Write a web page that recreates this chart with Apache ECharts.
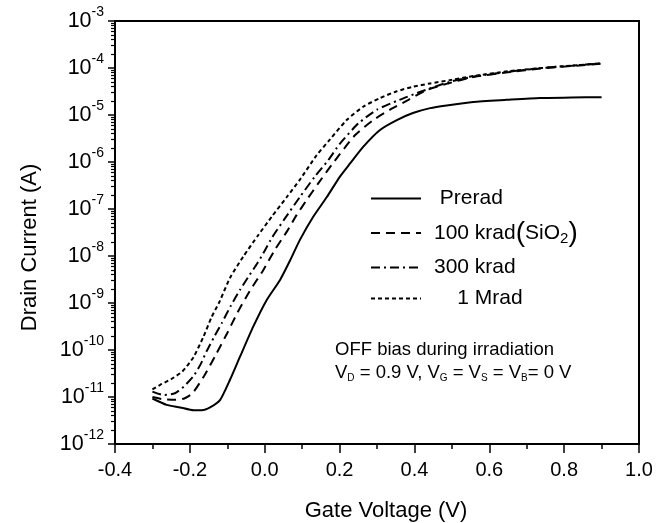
<!DOCTYPE html>
<html><head><meta charset="utf-8">
<script src="https://cdn.jsdelivr.net/npm/echarts@6/dist/echarts.min.js"></script>
<style>html,body{margin:0;padding:0;background:#fff}#c{width:668px;height:523px}</style>
</head><body><div id="c"></div>
<script>
const seriesNames = ['Prerad', '100 krad(SiO2)', '300 krad', '1 Mrad'];

const vPrerad = [-0.30,-0.262,-0.226,-0.19,-0.168,-0.146,-0.119,-0.093,-0.066,-0.031,0.005,0.041,0.068,0.094,0.13,0.166,0.201,0.228,0.263,0.308,0.353,0.396,0.442,0.486,0.557,0.646,0.735,0.82,0.90];
const iPrerad = [9.3e-12,6.8e-12,6.0e-12,5.2e-12,5.2e-12,6.0e-12,8.7e-12,2.3e-11,7.2e-11,3.1e-10,1.15e-9,3.1e-9,8.1e-9,2.2e-8,6.9e-8,1.8e-7,4.9e-7,9.3e-7,2.1e-6,4.8e-6,7.8e-6,1.1e-5,1.4e-5,1.6e-5,1.9e-5,2.1e-5,2.3e-5,2.35e-5,2.4e-5];

const v100k = [-0.30,-0.27,-0.238,-0.215,-0.193,-0.162,-0.13,-0.10,-0.073,-0.04,-0.004,0.027,0.059,0.085,0.112,0.143,0.179,0.241,0.29,0.335,0.384,0.433,0.49,0.56,0.65,0.74,0.82,0.90];
const i100k = [1.0e-11,8.9e-12,8.7e-12,9.3e-12,1.2e-11,2.8e-11,8.1e-11,2.3e-10,6.2e-10,1.8e-9,5.0e-9,1.35e-8,3.3e-8,7.4e-8,1.55e-7,3.5e-7,8.7e-7,3.7e-6,7.8e-6,1.3e-5,2.1e-5,3.4e-5,4.7e-5,6.5e-5,8.1e-5,9.8e-5,1.1e-4,1.23e-4];

const v300k = [-0.30,-0.27,-0.24,-0.215,-0.19,-0.17,-0.155,-0.135,-0.115,-0.09,-0.066,-0.04,-0.02,0.0,0.02,0.054,0.094,0.134,0.17,0.20,0.25,0.30,0.36,0.42,0.47,0.50,0.56,0.65,0.74,0.82,0.90];
const i300k = [1.3e-11,1.1e-11,1.2e-11,1.7e-11,2.8e-11,5.2e-11,9.5e-11,1.9e-10,3.7e-10,8.9e-10,1.9e-9,4.0e-9,6.9e-9,1.3e-8,2.5e-8,6.3e-8,1.8e-7,4.9e-7,1.1e-6,2.4e-6,6.6e-6,1.3e-5,2.1e-5,3.2e-5,4.4e-5,5.2e-5,6.6e-5,8.3e-5,1.0e-4,1.12e-4,1.26e-4];

const v1M = [-0.30,-0.28,-0.25,-0.22,-0.19,-0.164,-0.142,-0.12,-0.093,-0.057,-0.017,0.019,0.059,0.094,0.139,0.174,0.219,0.263,0.308,0.353,0.397,0.442,0.50,0.56,0.65,0.74,0.82,0.90];
const i1M = [1.45e-11,1.8e-11,2.4e-11,3.5e-11,7.1e-11,1.9e-10,5.0e-10,1.1e-9,3.4e-9,9.8e-9,2.8e-8,6.9e-8,1.8e-7,4.2e-7,1.4e-6,3.0e-6,7.8e-6,1.5e-5,2.3e-5,3.2e-5,4.0e-5,4.7e-5,5.6e-5,6.8e-5,8.5e-5,1.0e-4,1.12e-4,1.26e-4];

const yDecadeMin = -12, yDecadeMax = -3;
const yMinorFactors = [2,3,4,5,6,7,8,9];
const xTickMin = -0.4, xTickMax = 1.0, xTickStep = 0.2;

const FONT = '"Liberation Sans", Arial, sans-serif';
function pairs(v, i) { return v.map((x, k) => [x, Math.log10(i[k])]); }
const minorTicks = [];
for (let e = yDecadeMin; e < yDecadeMax; e++) for (const f of yMinorFactors) minorTicks.push(e + Math.log10(f));

const legendLabels = {
  'Prerad': ' Prerad',
  '100 krad(SiO2)': '100 krad{p|(}SiO{sub|2}{p|)}',
  '300 krad': '300 krad',
  '1 Mrad': '    1 Mrad'
};

const chart = echarts.init(document.getElementById('c'), null, {renderer: 'canvas'});
const lineBase = {type: 'line', showSymbol: false, symbol: 'none', smooth: 0.2, clip: true, yAxisIndex: 0};
chart.setOption({
  animation: false,
  backgroundColor: '#fff',
  grid: {left: 115, right: 29, top: 21, bottom: 79, show: true, borderColor: '#000', borderWidth: 2, backgroundColor: 'transparent',
    containLabel: false, outerBoundsMode: 'none'},
  legend: {
    orient: 'vertical', left: 370, top: 188, padding: 0, itemWidth: 50, itemHeight: 16, itemGap: 10,
    itemStyle: {opacity: 0},
    data: seriesNames,
    formatter: n => legendLabels[n],
    textStyle: {fontFamily: FONT, fontSize: 21, color: '#000', padding: [0, 0, 0, 8],
      rich: {p: {fontFamily: FONT, fontSize: 28, color: '#000'}, sub: {fontFamily: FONT, fontSize: 15, color: '#000', padding: [12, 0, 0, 0]}}}
  },
  xAxis: {
    type: 'value', min: xTickMin, max: xTickMax, interval: xTickStep,
    name: 'Gate Voltage (V)', nameLocation: 'middle', nameGap: 56,
    nameTextStyle: {fontFamily: FONT, fontSize: 22, color: '#000', padding: [0, 0, 0, 18]},
    axisLine: {onZero: false, lineStyle: {color: '#000', width: 2}},
    axisTick: {length: 9, lineStyle: {color: '#000', width: 1.5}},
    minorTick: {show: true, splitNumber: 2, length: 5, lineStyle: {color: '#000', width: 1.5}},
    axisLabel: {margin: 16, fontFamily: FONT, fontSize: 20, color: '#000',
      formatter: v => Math.abs(v) < 1e-9 ? '0.0' : v.toFixed(1)},
    splitLine: {show: false}
  },
  yAxis: [{
    type: 'value', min: yDecadeMin, max: yDecadeMax, interval: 1,
    name: 'Drain Current (A)', nameLocation: 'middle', nameGap: 74,
    nameTextStyle: {fontFamily: FONT, fontSize: 22, color: '#000', padding: [0, 30, 0, 0]},
    axisLine: {onZero: false, lineStyle: {color: '#000', width: 2}},
    axisTick: {length: 7, lineStyle: {color: '#000', width: 1.5}},
    axisLabel: {margin: 11, color: '#000',
      formatter: v => '{b|10}{s|' + Math.round(v) + '}',
      rich: {b: {fontFamily: FONT, fontSize: 21.5, color: '#000'}, s: {fontFamily: FONT, fontSize: 14, color: '#000', padding: [0, 0, 17, 0]}}},
    splitLine: {show: false}
  }, {
    type: 'value', min: yDecadeMin, max: yDecadeMax, position: 'left',
    axisLine: {show: false, onZero: false}, axisLabel: {show: false}, splitLine: {show: false},
    axisTick: {show: true, customValues: minorTicks, length: 4, lineStyle: {color: '#000', width: 1.2}}
  }],
  graphic: [{
    type: 'text', left: 335, top: 340,
    style: {text: 'OFF bias during irradiation', fontFamily: FONT, fontSize: 18.5, fill: '#000'}
  }, {
    type: 'text', left: 335, top: 363,
    style: {text: 'V{s|D} = 0.9 V, V{s|G} = V{s|S} = V{s|B}= 0 V', fontFamily: FONT, fontSize: 18.5, fill: '#000',
      rich: {s: {fontFamily: FONT, fontSize: 10, fill: '#000', padding: [12, 0, 0, 0]}}}
  }],
  series: [
    Object.assign({}, lineBase, {name: seriesNames[0], data: pairs(vPrerad, iPrerad), lineStyle: {color: '#000', width: 2, type: 'solid'}, itemStyle: {color: '#000'}}),
    Object.assign({}, lineBase, {name: seriesNames[1], data: pairs(v100k, i100k), lineStyle: {color: '#000', width: 2, type: [9, 6]}, itemStyle: {color: '#000'}}),
    Object.assign({}, lineBase, {name: seriesNames[2], data: pairs(v300k, i300k), lineStyle: {color: '#000', width: 2, type: [9, 4, 2, 4]}, itemStyle: {color: '#000'}}),
    Object.assign({}, lineBase, {name: seriesNames[3], data: pairs(v1M, i1M), lineStyle: {color: '#000', width: 2, type: [4, 3]}, itemStyle: {color: '#000'}})
  ]
});
</script></body></html>
